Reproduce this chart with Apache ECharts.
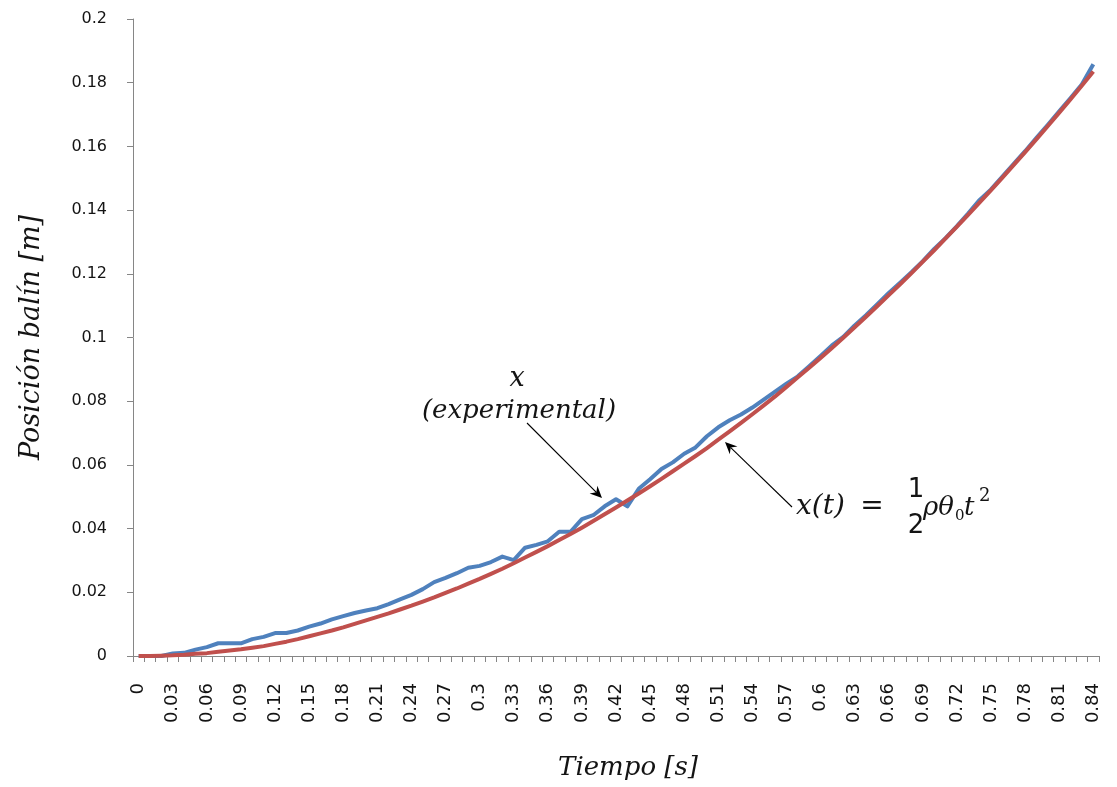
<!DOCTYPE html>
<html>
<head>
<meta charset="utf-8">
<script src="https://cdn.jsdelivr.net/npm/echarts@6/dist/echarts.min.js"></script>
<style>
html,body{margin:0;padding:0;background:#fff;}
#chart{width:1117px;height:787px;}
</style>
</head>
<body>
<div id="chart"></div>
<script>
// Time categories (s)
var categories = ["0","0.01","0.02","0.03","0.04","0.05","0.06","0.07","0.08","0.09",
"0.1","0.11","0.12","0.13","0.14","0.15","0.16","0.17","0.18","0.19",
"0.2","0.21","0.22","0.23","0.24","0.25","0.26","0.27","0.28","0.29",
"0.3","0.31","0.32","0.33","0.34","0.35","0.36","0.37","0.38","0.39",
"0.4","0.41","0.42","0.43","0.44","0.45","0.46","0.47","0.48","0.49",
"0.5","0.51","0.52","0.53","0.54","0.55","0.56","0.57","0.58","0.59",
"0.6","0.61","0.62","0.63","0.64","0.65","0.66","0.67","0.68","0.69",
"0.7","0.71","0.72","0.73","0.74","0.75","0.76","0.77","0.78","0.79",
"0.8","0.81","0.82","0.83","0.84"];

// x (experimental) [m]
var experimental = [0,0,0,0.0008,0.001,0.002,0.0028,0.004,0.004,0.004,
0.0053,0.006,0.0072,0.0072,0.008,0.0092,0.0102,0.0115,0.0125,0.0135,
0.0143,0.015,0.0163,0.0178,0.0192,0.021,0.0232,0.0245,0.026,0.0277,
0.0283,0.0295,0.0312,0.0301,0.034,0.0349,0.036,0.039,0.039,0.043,
0.0442,0.047,0.0492,0.047,0.0525,0.0555,0.0587,0.0608,0.0635,0.0655,
0.069,0.0718,0.074,0.0758,0.078,0.0805,0.083,0.0855,0.0878,0.091,
0.0942,0.0975,0.1002,0.1038,0.107,0.1105,0.114,0.1172,0.1205,0.124,
0.1278,0.1312,0.135,0.139,0.1432,0.1465,0.1505,0.1545,0.1585,0.1627,
0.1668,0.171,0.1752,0.1795,0.1858];

// x(t) = 1/2 rho theta0 t^2 [m]
var theoretical = [0,0,0.0001,0.0002,0.0004,0.0007,0.0009,0.0013,0.0017,0.0021,
0.0026,0.0031,0.0038,0.0045,0.0053,0.0062,0.0071,0.008,0.009,0.0101,
0.0112,0.0123,0.0134,0.0146,0.0158,0.0171,0.0184,0.0198,0.0212,0.0227,
0.0242,0.0258,0.0274,0.0291,0.0309,0.0327,0.0345,0.0364,0.0383,0.0403,
0.0424,0.0445,0.0466,0.0488,0.051,0.0533,0.0556,0.058,0.0604,0.0628,
0.0653,0.0679,0.0705,0.0732,0.0759,0.0787,0.0815,0.0845,0.0875,0.0905,
0.0936,0.0967,0.0999,0.1032,0.1065,0.1099,0.1133,0.1167,0.1202,0.1238,
0.1274,0.1311,0.1348,0.1386,0.1424,0.1463,0.1502,0.1542,0.1582,0.1623,
0.1664,0.1706,0.1748,0.1791,0.1835];

var yTicks = {min: 0, max: 0.2, interval: 0.02};

var chart = echarts.init(document.getElementById('chart'), null, {renderer: 'canvas'});

var INK = '#141414';

function txt(x, y, s, font, align) {
  return {type: 'text', x: x, y: y, style: {text: s, font: font, align: align || 'center', verticalAlign: 'middle', fill: INK}};
}

function arrow(x1, y1, x2, y2) {
  var dx = x2 - x1, dy = y2 - y1, L = Math.sqrt(dx*dx + dy*dy);
  var ux = dx / L, uy = dy / L, hl = 12, hw = 5.5;
  var bx = x2 - ux*hl, by = y2 - uy*hl;
  return [
    {type: 'line', shape: {x1: x1, y1: y1, x2: bx + ux*4, y2: by + uy*4}, style: {stroke: '#000', lineWidth: 1.1}},
    {type: 'polygon', shape: {points: [[x2, y2], [bx - uy*hw, by + ux*hw], [bx + ux*4, by + uy*4], [bx + uy*hw, by - ux*hw]]}, style: {fill: '#000'}}
  ];
}

var SERIF_I = '"DejaVu Serif"';
var graphics = [
  txt(517, 379, 'x', 'italic 27px ' + SERIF_I),
  txt(519, 411, '(experimental)', 'italic 26px ' + SERIF_I),
  txt(796, 507, 'x(t)', 'italic 28px ' + SERIF_I, 'left'),
  txt(872, 507, '=', '28px ' + SERIF_I),
  txt(916, 490, '1', '26px "DejaVu Sans"'),
  txt(916, 526, '2', '26px "DejaVu Sans"'),
  txt(923, 508, 'ρθ', 'italic 26px ' + SERIF_I, 'left'),
  txt(955, 516, '0', '15px "DejaVu Serif"', 'left'),
  txt(964, 508, 't', 'italic 26px ' + SERIF_I, 'left'),
  txt(979, 496, '2', '18px "DejaVu Serif"', 'left')
].concat(arrow(527, 423, 602, 498)).concat(arrow(792, 507, 725, 442));

var option = {
  backgroundColor: '#ffffff',
  animation: false,
  grid: {left: 133, right: 18, top: 19, bottom: 131, containLabel: false},
  xAxis: {
    type: 'category',
    data: categories,
    boundaryGap: true,
    name: 'Tiempo [s]',
    nameLocation: 'middle',
    nameGap: 99,
    nameTextStyle: {fontFamily: 'DejaVu Serif', fontStyle: 'italic', fontSize: 26, color: INK, padding: [0, 0, 0, 24]},
    axisLine: {lineStyle: {color: '#868686', width: 1}},
    axisTick: {show: true, interval: 0, length: 6, alignWithLabel: false, lineStyle: {color: '#868686'}},
    axisLabel: {interval: 2, rotate: 90, margin: 27, fontFamily: 'DejaVu Sans', fontSize: 18, color: INK},
    splitLine: {show: false}
  },
  yAxis: {
    type: 'value',
    min: yTicks.min, max: yTicks.max, interval: yTicks.interval,
    name: 'Posición balín [m]',
    nameLocation: 'middle',
    nameGap: 88,
    nameRotate: 90,
    nameTextStyle: {fontFamily: 'DejaVu Serif', fontStyle: 'italic', fontSize: 27, color: INK},
    axisLine: {show: true, lineStyle: {color: '#868686', width: 1}},
    axisTick: {show: true, length: 6, lineStyle: {color: '#868686'}},
    axisLabel: {margin: 26, fontFamily: 'DejaVu Sans', fontSize: 16, color: INK,
      formatter: function (v) { return String(+v.toFixed(2)); }},
    splitLine: {show: false}
  },
  series: [
    {name: 'x (experimental)', type: 'line', data: experimental, showSymbol: false, symbol: 'none',
      lineStyle: {color: '#4F81BD', width: 4, join: 'round'}, itemStyle: {color: '#4F81BD'}},
    {name: 'x(t)', type: 'line', data: theoretical, showSymbol: false, symbol: 'none',
      lineStyle: {color: '#C0504D', width: 4, join: 'round'}, itemStyle: {color: '#C0504D'}}
  ],
  graphic: graphics
};
chart.setOption(option);
</script>
</body>
</html>
